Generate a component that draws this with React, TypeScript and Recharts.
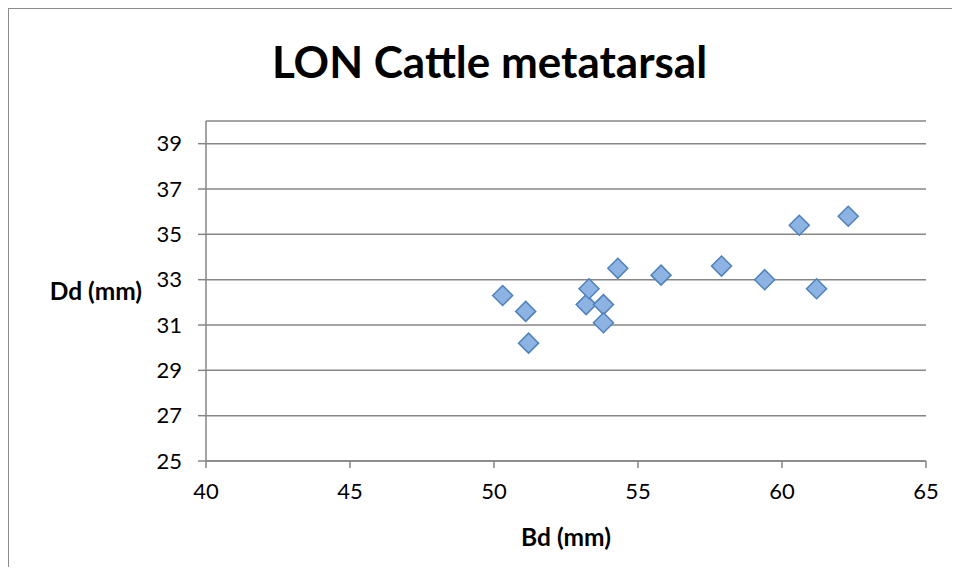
import { CartesianGrid, Scatter, ScatterChart, XAxis, YAxis } from "recharts";

const bdValues = [50.3, 51.1, 51.2, 53.2, 53.3, 53.8, 53.8, 54.3, 55.8, 57.9, 59.4, 60.6, 61.2, 62.3];
const ddValues = [32.3, 31.6, 30.2, 31.9, 32.6, 31.9, 31.1, 33.5, 33.2, 33.6, 33.0, 35.4, 32.6, 35.8];
const xTicks = [40, 45, 50, 55, 60, 65];
const yTicks = [25, 27, 29, 31, 33, 35, 37, 39];

const points = bdValues.map((bd, i) => ({ bd, dd: ddValues[i] }));

const axisGray = "#868686";
const font = "Lato, Carlito, Calibri, sans-serif";

const Diamond = (props: any) => {
  const { cx, cy } = props;
  const r = 10;
  return (
    <path
      d={`M${cx},${cy - r}L${cx + r},${cy}L${cx},${cy + r}L${cx - r},${cy}Z`}
      fill="#8db3e2"
      stroke="#4f81bd"
      strokeWidth={1.5}
    />
  );
};

export default function App() {
  return (
    <div style={{ position: "relative", width: 950, height: 560, fontFamily: font }}>
      <div
        style={{
          position: "absolute",
          left: -1,
          top: -1,
          width: 950,
          height: 560,
          borderLeft: "2px solid #8c8c8c",
          borderTop: "2px solid #8c8c8c",
          boxSizing: "border-box",
        }}
      />
      <div
        style={{
          position: "absolute",
          left: 0,
          width: 963,
          top: 28,
          textAlign: "center",
          fontSize: 44,
          fontWeight: 700,
          color: "#000",
          lineHeight: "50px",
        }}
      >
        LON Cattle metatarsal
      </div>
      <ScatterChart
        width={950}
        height={560}
        margin={{ top: 113, right: 32, left: 138, bottom: 17 }}
        style={{ position: "absolute", left: 0, top: 0 }}
      >
        <CartesianGrid horizontal vertical={false} stroke={axisGray} strokeWidth={1.5} />
        <XAxis
          type="number"
          dataKey="bd"
          domain={[40, 65]}
          ticks={xTicks}
          allowDataOverflow
          height={90}
          tickSize={7}
          tickMargin={15}
          axisLine={{ stroke: axisGray, strokeWidth: 1.5 }}
          tickLine={{ stroke: axisGray, strokeWidth: 1.5 }}
          tick={{ fill: "#000", fontSize: 22, fontFamily: font }}
          label={{
            value: "Bd (mm)",
            position: "insideBottom",
            offset: 5,
            fill: "#000",
            fontSize: 24.5,
            fontWeight: 700,
            fontFamily: font,
          }}
        />
        <YAxis
          type="number"
          dataKey="dd"
          domain={[25, 40]}
          ticks={yTicks}
          allowDataOverflow
          width={60}
          tickSize={8}
          tickMargin={16}
          axisLine={{ stroke: axisGray, strokeWidth: 1.5 }}
          tickLine={{ stroke: axisGray, strokeWidth: 1.5 }}
          tick={{ fill: "#000", fontSize: 22, fontFamily: font }}
          label={{
            value: "Dd (mm)",
            position: "left",
            offset: 4,
            fill: "#000",
            fontSize: 24.5,
            fontWeight: 700,
            fontFamily: font,
          }}
        />
        <Scatter data={points} shape={<Diamond />} isAnimationActive={false} />
      </ScatterChart>
    </div>
  );
}
